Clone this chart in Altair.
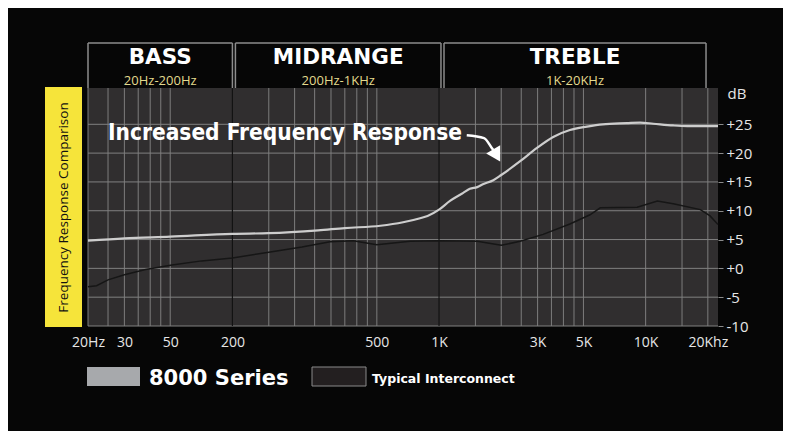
import altair as alt
import pandas as pd

# ---------------- data ----------------
white_freq = [20, 30, 50, 100, 150, 260, 350, 520, 670, 810, 880, 1000, 1130, 1310, 1410,
              1530, 1630, 1830, 2000, 2470, 2980, 3570, 4300, 5200, 6200, 8100, 9400,
              10900, 13600, 15900, 22400]
white_db = [4.8, 5.2, 5.5, 6.0, 6.1, 6.6, 7.0, 7.4, 8.0, 8.7, 9.1, 10.2, 11.7, 13.1, 13.8,
            14.1, 14.6, 15.3, 16.2, 18.6, 20.9, 22.8, 24.0, 24.6, 25.0, 25.2, 25.3,
            25.1, 24.8, 24.7, 24.7]

black_freq = [20, 22, 25, 30, 38, 51, 71, 100, 150, 217, 297, 384, 500, 724, 1000, 1530,
              2000, 2470, 3190, 4300, 5380, 6030, 9100, 11400, 13600, 18400, 20500, 22400]
black_db = [-3.2, -3.0, -2.0, -1.1, -0.2, 0.6, 1.3, 1.8, 2.8, 3.7, 4.6, 4.8, 4.1, 4.7, 4.8,
            4.7, 4.0, 4.7, 5.9, 7.7, 9.3, 10.5, 10.6, 11.7, 11.2, 10.2, 9.1, 7.6]

grid_freq_light = [20, 25, 30, 35, 40, 45, 50, 150, 200, 250, 300, 350, 400, 450, 500,
                   1500, 2000, 2500, 3000, 3500, 4000, 4500, 5000, 10000, 15000, 20000]
grid_freq_dark = [100, 1000]
grid_db = [-10, -5, 0, 5, 10, 15, 20, 25]

x_tick_values = [20, 30, 50, 100, 500, 1000, 3000, 5000, 10000, 20000]
x_tick_labels = ["20Hz", "30", "50", "200", "500", "1K", "3K", "5K", "10K", "20Khz"]
y_tick_values = [-10, -5, 0, 5, 10, 15, 20, 25]

band_names = ["BASS", "MIDRANGE", "TREBLE"]
band_ranges = ["20Hz-200Hz", "200Hz-1KHz", "1K-20KHz"]
band_start = [20, 103.4, 1057]
band_end = [100, 1022, 19600]

series_names = ["8000 Series", "Typical Interconnect"]
side_title = "Frequency Response Comparison"

annot_text = ["Increased Frequency Response"]
annot_freq = [25]
annot_db = [22.2]

arrow_freq = [1362, 1652, 1800, 1845]
arrow_db = [23.1, 22.6, 20.9, 20.4]
arrow_head_freq = [1901]
arrow_head_db = [19.6]

# ---------------- tables ----------------
white_df = pd.DataFrame({"freq": white_freq, "db": white_db})
black_df = pd.DataFrame({"freq": black_freq, "db": black_db})
glight_df = pd.DataFrame({"freq": grid_freq_light})
gdark_df = pd.DataFrame({"freq": grid_freq_dark})
gdb_df = pd.DataFrame({"db": grid_db})
band_df = pd.DataFrame({"name": band_names, "range": band_ranges,
                        "start": band_start, "end": band_end})
annot_df = pd.DataFrame({"freq": annot_freq, "db": annot_db, "text": annot_text})
arrow_df = pd.DataFrame({"freq": arrow_freq, "db": arrow_db})
head_df = pd.DataFrame({"freq": arrow_head_freq, "db": arrow_head_db})
side_df = pd.DataFrame({"t": [side_title]})
leg1_df = pd.DataFrame({"name": [series_names[0]]})
leg2_df = pd.DataFrame({"name": [series_names[1]]})

W, H = 630, 238

label_expr = ""
for v, l in zip(x_tick_values, x_tick_labels):
    label_expr += f"datum.value == {v} ? '{l}' : "
label_expr += "''"

xscale = alt.Scale(type="log", domain=[20, 22400], nice=False)
yscale = alt.Scale(domain=[-10, 31.3], nice=False, zero=False)

xaxis = alt.Axis(values=x_tick_values, labelExpr=label_expr, grid=False, domain=False,
                 ticks=False, labelPadding=9, labelFontSize=14, labelFont="Open Sans",
                 labelColor="#e6e6e6", labelFlush=False, labelOverlap=False, title=None)
yaxis = alt.Axis(orient="right", values=y_tick_values,
                 labelExpr="datum.value >= 0 ? '+' + datum.value : '' + datum.value",
                 grid=False, domain=False, tickSize=5, tickColor="#8a8a8a", tickWidth=1,
                 labelPadding=3, labelFontSize=15, labelFont="Open Sans",
                 labelColor="#e6e6e6", labelOverlap=False, labelFlush=False,
                 title="dB", titleAngle=0, titleAlign="left", titleBaseline="middle",
                 titleX=9, titleY=5, titleFont="Open Sans", titleFontSize=15,
                 titleFontWeight="normal", titleColor="#e6e6e6")


def X(field="freq"):
    return alt.X(f"{field}:Q", scale=xscale, axis=xaxis)


def Y(field="db"):
    return alt.Y(f"{field}:Q", scale=yscale, axis=yaxis)


grid_light = alt.Chart(glight_df).mark_rule(color="#7d7d7d", strokeWidth=1).encode(x=X())
grid_dark = alt.Chart(gdark_df).mark_rule(color="#121212", strokeWidth=1.2).encode(x=X())
grid_h = alt.Chart(gdb_df).mark_rule(color="#808080", strokeWidth=1).encode(y=Y())

black_line = alt.Chart(black_df).mark_line(color="#161616", strokeWidth=1.5).encode(
    x=X(), y=Y())
white_line = alt.Chart(white_df).mark_line(color="#cdcdcd", strokeWidth=2.2,
                                           interpolate="monotone").encode(x=X(), y=Y())

annot = alt.Chart(annot_df).mark_text(align="left", baseline="alphabetic",
                                      font="DejaVu Sans Condensed, Liberation Sans, sans-serif",
                                      fontWeight="bold", fontSize=22.5,
                                      color="white").encode(
    x=X(), y=Y(), text="text:N")
arrow = alt.Chart(arrow_df).mark_line(color="white", strokeWidth=2.5,
                                      interpolate="monotone").encode(x=X(), y=Y())
head = alt.Chart(head_df).mark_point(shape="triangle-down", filled=True, size=260,
                                     angle=330, color="white", opacity=1).encode(x=X(), y=Y())

# band header boxes
box_left = alt.Chart(band_df).mark_rule(color="#8c8c8c", strokeWidth=1.5).encode(
    x=X("start"), y=alt.value(-45), y2=alt.value(0))
box_right = alt.Chart(band_df).mark_rule(color="#8c8c8c", strokeWidth=1.5).encode(
    x=X("end"), y=alt.value(-45), y2=alt.value(0))
box_top = alt.Chart(band_df).mark_rule(color="#8c8c8c", strokeWidth=1.5).encode(
    x=X("start"), x2="end:Q", y=alt.value(-45))
band_title = alt.Chart(band_df).transform_calculate(
    mid="sqrt(datum.start * datum.end)").mark_text(
    font="DejaVu Sans", fontWeight="bold", fontSize=21.5, color="white",
    baseline="middle").encode(x=X("mid"), y=alt.value(-30), text="name:N")
band_sub = alt.Chart(band_df).transform_calculate(
    mid="sqrt(datum.start * datum.end)").mark_text(
    font="Open Sans", fontSize=13, color="#e3da8e",
    baseline="middle").encode(x=X("mid"), y=alt.value(-7), text="range:N")

# yellow side label
side_bar = alt.Chart(side_df).mark_rect(color="#f6e43a").encode(
    x=alt.value(-43), x2=alt.value(-6), y=alt.value(-1), y2=alt.value(239))
side_text = alt.Chart(side_df).mark_text(angle=270, font="Open Sans", fontSize=13.5,
                                         color="#111111", baseline="middle",
                                         align="center").encode(
    x=alt.value(-24.5), y=alt.value(119.5), text="t:N")

# legend
leg1_sw = alt.Chart(leg1_df).mark_rect(color="#a7a9ac").encode(
    x=alt.value(-1), x2=alt.value(52), y=alt.value(279), y2=alt.value(298))
leg1_tx = alt.Chart(leg1_df).mark_text(align="left", baseline="alphabetic",
                                       font="DejaVu Sans", fontWeight="bold", fontSize=21,
                                       color="white").encode(
    x=alt.value(61), y=alt.value(297), text="name:N")
leg2_sw = alt.Chart(leg2_df).mark_rect(fill="#231f20", stroke="#8a8a8a",
                                       strokeWidth=1).encode(
    x=alt.value(224), x2=alt.value(278), y=alt.value(279), y2=alt.value(298))
leg2_tx = alt.Chart(leg2_df).mark_text(align="left", baseline="alphabetic",
                                       font="DejaVu Sans", fontWeight="bold", fontSize=12.5,
                                       color="white").encode(
    x=alt.value(284), y=alt.value(295), text="name:N")

chart = alt.layer(
    grid_light, grid_h, grid_dark, black_line, white_line, annot, arrow, head,
    box_left, box_right, box_top, band_title, band_sub, side_bar, side_text,
    leg1_sw, leg1_tx, leg2_sw, leg2_tx
).properties(
    width=W, height=H,
    padding={"left": 80, "top": 80, "right": 65, "bottom": 105},
    autosize=alt.AutoSizeParams(type="none"),
).configure(background="#060606").configure_view(fill="#302e2f", strokeWidth=0)

chart.save("out.html", embed_options={"renderer": "svg", "actions": False})
